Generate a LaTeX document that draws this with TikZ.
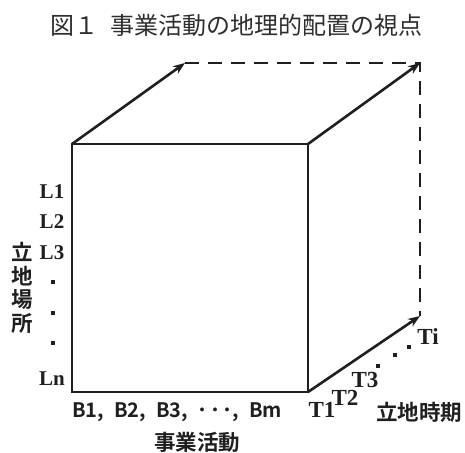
\documentclass[tikz,border=0pt]{standalone}
\usepackage{fontspec}
\usetikzlibrary{arrows.meta}
\newfontfamily\jp{Noto Sans CJK JP}
\newfontfamily\jpb{Noto Sans CJK JP}[BoldFont={Noto Sans CJK JP Bold}]
\newfontfamily\lat{Liberation Serif}
\tikzset{
  edge/.style={line width=2.6pt, line cap=round, line join=miter, black!88},
  arr/.style={edge, -{Stealth[length=12pt,width=9pt]}},
  dsh/.style={line width=2.6pt, black!88, dash pattern=on 14pt off 9pt},
  ttl/.style={font=\jp\fontsize{24}{26}\selectfont, text=black!82, inner sep=0pt},
  axl/.style={font=\jpb\bfseries\fontsize{21.5}{23.5}\selectfont, text=black!88, inner sep=0pt},
  lbl/.style={font=\lat\bfseries\fontsize{21}{22}\selectfont, text=black!88, inner sep=0pt},
  tl/.style={font=\lat\bfseries\fontsize{23}{24}\selectfont, text=black!88, inner sep=0pt},
  bl/.style={font=\jpb\bfseries\fontsize{20}{22}\selectfont, text=black!88, inner sep=0pt},
  dot/.style={rectangle, fill=black!88, minimum size=4pt, inner sep=0pt},
}
\begin{document}
\begin{tikzpicture}[x=1pt,y=-1pt]
\useasboundingbox (0,0) rectangle (465,452);
\node[ttl] (title) at (236,25) {図１\hspace{0.5em}事業活動の地理的配置の視点};
\coordinate (A) at (72,144);
\coordinate (B) at (308,144);
\coordinate (C) at (308,392);
\coordinate (D) at (72,392);
\coordinate (E) at (185,63);
\coordinate (F) at (420,63);
\coordinate (G) at (420,316);
\draw[edge] (A) -- (B) -- (C) -- (D) -- cycle;
\draw[arr] (A) -- (E);
\draw[arr] (B) -- (F);
\draw[arr] (C) -- (G);
\draw[dsh] (E) -- (F) -- (G);
% L labels
\node[lbl] (l1) at (52,192) {L1};
\node[lbl] (l2) at (52,222) {L2};
\node[lbl] (l3) at (52,253) {L3};
\node[dot] (d1) at (53,282) {};
\node[dot] (d2) at (53,313) {};
\node[dot] (d3) at (53,343) {};
\node[lbl] (ln) at (52,379) {Ln};
\node[axl, align=center] (loc) at (22,288) {立\\地\\場\\所};
% B labels
\node[bl, anchor=west] (bs) at (72,412) {B1,\hspace{0.5em}B2,\hspace{0.5em}B3,\hspace{0.5em}･\hspace{0.12em}･\hspace{0.12em}･,\hspace{0.5em}Bm};
\node[axl] (biz) at (197,442) {事業活動};
% T labels
\node[tl] (t1) at (322,410) {T1};
\node[tl] (t2) at (345,398) {T2};
\node[tl] (t3) at (365,380) {T3};
\node[dot] (e1) at (378,366) {};
\node[dot] (e2) at (395,355) {};
\node[dot] (e3) at (409,347) {};
\node[tl] (ti) at (428,337) {Ti};
\node[axl] (tim) at (419,412) {立地時期};
\end{tikzpicture}
\end{document}
